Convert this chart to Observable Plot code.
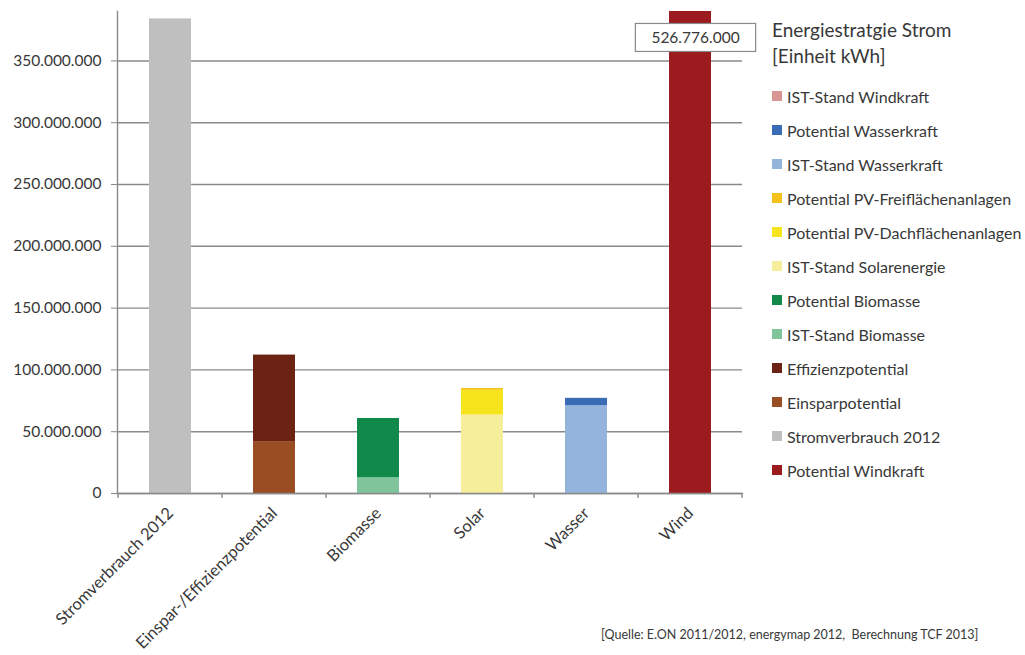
<!DOCTYPE html>
<html>
<head>
<meta charset="utf-8">
<script src="https://cdn.jsdelivr.net/npm/d3@7"></script>
<script src="https://cdn.jsdelivr.net/npm/@observablehq/plot@0.6"></script>
<style>
  body { margin: 0; background: #fff; font-family: Lato, "Open Sans", sans-serif; color: #383838; }
  #wrap { position: relative; width: 1025px; height: 655px; overflow: hidden; }
  #legend { position: absolute; left: 772px; top: 0; }
  #legend .title { position: absolute; left: 0; top: 17px; width: 260px; font-size: 19px; line-height: 26px; white-space: nowrap; }
  #legend .item { position: absolute; left: 0; height: 20px; display: flex; align-items: center; white-space: nowrap; font-size: 16px; }
  #legend .sw { width: 10px; height: 10px; margin-right: 5px; }
  #caption { position: absolute; left: 601px; top: 627px; font-size: 12.5px; white-space: pre; }
</style>
</head>
<body>
<div id="wrap">
  <div id="chart"></div>
  <div id="legend"></div>
  <div id="caption"></div>
</div>
<script>
// Categories on the x axis
const categories = ["Stromverbrauch 2012", "Einspar-/Effizienzpotential", "Biomasse", "Solar", "Wasser", "Wind"];

// Series in stacking order (bottom to top); the legend lists them in reverse
const seriesNames = [
  "Potential Windkraft",
  "Stromverbrauch 2012",
  "Einsparpotential",
  "Effizienzpotential",
  "IST-Stand Biomasse",
  "Potential Biomasse",
  "IST-Stand Solarenergie",
  "Potential PV-Dachflächenanlagen",
  "Potential PV-Freiflächenanlagen",
  "IST-Stand Wasserkraft",
  "Potential Wasserkraft",
  "IST-Stand Windkraft"
];
// Category each series belongs to
const seriesCategory = [
  "Wind", "Stromverbrauch 2012", "Einspar-/Effizienzpotential", "Einspar-/Effizienzpotential",
  "Biomasse", "Biomasse", "Solar", "Solar", "Solar", "Wasser", "Wasser", "Wind"
];
// Values in kWh
const seriesValues = [
  526776000, 384000000, 42000000, 70000000,
  12700000, 48000000, 63500000, 20000000, 1500000, 71000000, 6000000, 0
];
const seriesColors = [
  "#9b1b1f", "#bfbfbf", "#9a4c22", "#6b2414",
  "#80c49c", "#11894a", "#f6ee9b", "#f6e51c", "#f4c21a", "#94b4dc", "#3a6cb6", "#d89593"
];
const yTicks = [0, 50000000, 100000000, 150000000, 200000000, 250000000, 300000000, 350000000];
const yMax = 390000000;

const legendTitle = ["Energiestratgie Strom", "[Einheit kWh]"];
const caption = "[Quelle: E.ON 2011/2012, energymap 2012,  Berechnung TCF 2013]";
const labelledSeries = "Potential Windkraft";

const rows = seriesNames.map((s, i) => ({series: s, category: seriesCategory[i], value: seriesValues[i]}));
const labelRows = rows.filter(d => d.series === labelledSeries);

const de = d3.formatLocale({decimal: ",", thousands: ".", grouping: [3], currency: ["", " €"]});
const fmt = de.format(",d");

const gridColor = "#8a8a8a";
const textColor = "#383838";

const chart = Plot.plot({
  width: 1025,
  height: 655,
  marginLeft: 117,
  marginRight: 283,
  marginTop: 11,
  marginBottom: 162,
  style: {fontFamily: "Lato, 'Open Sans', sans-serif", fontSize: "15px", color: textColor, background: "#fff"},
  x: {domain: categories, paddingInner: 0.6, paddingOuter: 0.3, label: null},
  y: {domain: [0, yMax], label: null},
  color: {domain: seriesNames, range: seriesColors},
  marks: [
    Plot.gridY(yTicks, {stroke: gridColor, strokeOpacity: 1, strokeWidth: 1.4}),
    Plot.barY(rows, {
      x: "category", y: "value", fill: "series", z: "series",
      order: seriesNames, clip: true
    }),
    Plot.frame({anchor: "left", stroke: gridColor, strokeWidth: 1.4}),
    Plot.frame({anchor: "bottom", stroke: gridColor, strokeWidth: 1.4}),
    Plot.axisY({ticks: yTicks, tickFormat: fmt, tickSize: 6, tickPadding: 10, stroke: gridColor, fill: textColor, fontSize: 15.5, label: null}),
    Plot.axisX({tickSize: 0, tickRotate: -45, tickPadding: 17, fill: textColor, fontSize: 16.5, label: null}),
    Plot.text(labelRows, {
      x: "category", text: d => fmt(d.value), frameAnchor: "top",
      dy: 27, dx: 5, lineAnchor: "middle", fill: textColor, fontSize: 15.5,
      className: "value-label"
    })
  ]
});

document.getElementById("chart").appendChild(chart);

// Category separator ticks below the x axis
const xs = chart.scale("x");
const yBase = 655 - 162;
const bounds = categories.map(c => xs.apply(c) + xs.bandwidth / 2 - xs.step / 2);
bounds.push(xs.apply(categories[categories.length - 1]) + xs.bandwidth / 2 + xs.step / 2);
d3.select(chart).append("g")
  .attr("stroke", gridColor).attr("stroke-width", 1.4)
  .selectAll("line").data(bounds).join("line")
  .attr("x1", d => d).attr("x2", d => d)
  .attr("y1", yBase).attr("y2", yBase + 5);

// Framed box behind the value label, sized from the label's own bounding box
d3.select(chart).selectAll(".value-label text").each(function() {
  const b = this.getBBox();
  d3.select(this.parentNode).insert("rect", () => this)
    .attr("transform", this.getAttribute("transform"))
    .attr("x", b.x - 16).attr("y", b.y - 5)
    .attr("width", b.width + 32).attr("height", b.height + 10)
    .attr("fill", "#fff").attr("stroke", "#8a8a8a").attr("stroke-width", 1.2);
});

// Legend
const legend = d3.select("#legend");
legend.append("div").attr("class", "title").html(legendTitle.join("<br>"));
const legendOrder = seriesNames.map((s, i) => ({name: s, color: seriesColors[i]})).reverse();
legendOrder.forEach((d, i) => {
  const item = legend.append("div").attr("class", "item").style("top", (86 + i * 34) + "px");
  item.append("div").attr("class", "sw").style("background", d.color);
  item.append("span").text(d.name);
});

document.getElementById("caption").textContent = caption;
</script>
</body>
</html>
